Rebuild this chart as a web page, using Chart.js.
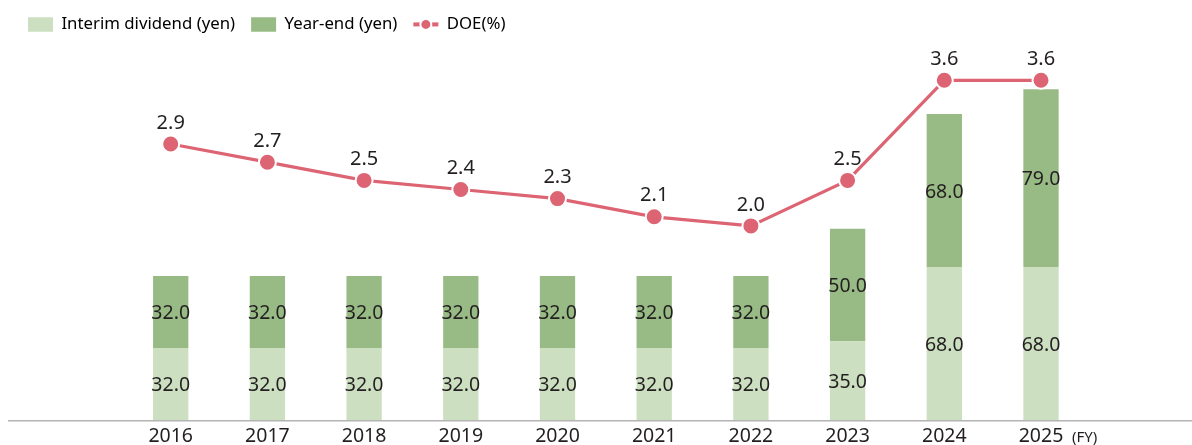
<!DOCTYPE html>
<html>
<head>
<meta charset="utf-8">
<script src="https://cdn.jsdelivr.net/npm/chart.js@4.4.1/dist/chart.umd.min.js"></script>
<style>
html,body{margin:0;padding:0;background:#fff;}
#wrap{width:1192px;height:445px;position:relative;}
</style>
</head>
<body>
<div id="wrap"><canvas id="c" width="1192" height="445"></canvas></div>
<script>
// ---- data ----
const categories = ['2016','2017','2018','2019','2020','2021','2022','2023','2024','2025'];
const interimDividend = [32, 32, 32, 32, 32, 32, 32, 35, 68, 68];
const yearEndDividend = [32, 32, 32, 32, 32, 32, 32, 50, 68, 79];
const doePercent = [2.9, 2.7, 2.5, 2.4, 2.3, 2.1, 2.0, 2.5, 3.6, 3.6];
const seriesNames = ['Interim dividend (yen)', 'Year-end (yen)', 'DOE(%)'];
const axisNote = '(FY)';

// ---- styles ----
const FONT = "'Noto Sans', 'DejaVu Sans', sans-serif";
const C_INTERIM = '#CCDFC1';
const C_YEAREND = '#98BB85';
const C_DOE = '#DD6473';
const C_TEXT = '#231f20';

Chart.defaults.font.family = FONT;

const valueLabels = {
  id: 'valueLabels',
  afterDatasetsDraw(chart) {
    const ctx = chart.ctx;
    ctx.save();
    ctx.fillStyle = C_TEXT;
    ctx.textAlign = 'center';
    ctx.textBaseline = 'middle';
    ctx.font = '19.5px ' + FONT;
    [0, 1].forEach(di => {
      const meta = chart.getDatasetMeta(di);
      const vals = chart.data.datasets[di].data;
      meta.data.forEach((bar, i) => {
        const p = bar.getProps(['x', 'y', 'base'], true);
        ctx.fillText(vals[i].toFixed(1), p.x, (p.y + p.base) / 2 + 1.5);
      });
    });
    ctx.font = '20px ' + FONT;
    const lm = chart.getDatasetMeta(2);
    lm.data.forEach((pt, i) => {
      ctx.fillText(doePercent[i].toFixed(1), pt.x, pt.y - 21);
    });
    ctx.restore();
  }
};

const decorations = {
  id: 'decorations',
  afterDraw(chart) {
    const ctx = chart.ctx;
    const xs = chart.scales.x;
    ctx.save();
    // baseline axis line
    ctx.strokeStyle = '#b4b4b4';
    ctx.lineWidth = 1.5;
    ctx.beginPath();
    ctx.moveTo(8, chart.chartArea.bottom + 0.75);
    ctx.lineTo(chart.width, chart.chartArea.bottom + 0.75);
    ctx.stroke();
    // (FY) note after last tick
    ctx.fillStyle = C_TEXT;
    ctx.font = '15px ' + FONT;
    ctx.textAlign = 'left';
    ctx.textBaseline = 'alphabetic';
    const lastX = xs.getPixelForValue(categories.length - 1);
    ctx.fillText(axisNote, lastX + 31, 441.5);
    // DOE legend marker
    const hb = chart.legend && chart.legend.legendHitBoxes && chart.legend.legendHitBoxes[2];
    if (hb) {
      const cy = hb.top + hb.height / 2;
      const x0 = hb.left, x1 = hb.left + 25;
      ctx.strokeStyle = C_DOE;
      ctx.lineWidth = 4;
      ctx.beginPath();
      ctx.moveTo(x0, cy);
      ctx.lineTo(x1, cy);
      ctx.stroke();
      ctx.beginPath();
      ctx.arc((x0 + x1) / 2, cy, 5.5, 0, Math.PI * 2);
      ctx.fillStyle = C_DOE;
      ctx.fill();
      ctx.strokeStyle = '#fff';
      ctx.lineWidth = 2;
      ctx.stroke();
    }
    ctx.restore();
  }
};

new Chart(document.getElementById('c'), {
  data: {
    labels: categories,
    datasets: [
      {
        type: 'bar',
        label: seriesNames[0],
        data: interimDividend,
        backgroundColor: C_INTERIM,
        yAxisID: 'y',
        stack: 'div',
        order: 1,
        barPercentage: 0.365,
        categoryPercentage: 1
      },
      {
        type: 'bar',
        label: seriesNames[1],
        data: yearEndDividend,
        backgroundColor: C_YEAREND,
        yAxisID: 'y',
        stack: 'div',
        order: 1,
        barPercentage: 0.365,
        categoryPercentage: 1
      },
      {
        type: 'line',
        label: seriesNames[2],
        data: doePercent,
        borderColor: C_DOE,
        borderWidth: 3.2,
        backgroundColor: C_DOE,
        pointBackgroundColor: C_DOE,
        pointBorderColor: '#ffffff',
        pointBorderWidth: 2,
        pointRadius: 8.5,
        tension: 0,
        yAxisID: 'y2',
        order: 0
      }
    ]
  },
  options: {
    responsive: false,
    animation: false,
    events: [],
    layout: { padding: { left: 12, top: 0, right: 0, bottom: 0 } },
    plugins: {
      tooltip: { enabled: false },
      legend: {
        display: true,
        position: 'top',
        align: 'start',
        labels: {
          boxWidth: 25,
          boxHeight: 14.5,
          padding: 16,
          color: '#333333',
          font: { size: 16.8, family: FONT },
          generateLabels(chart) {
            return chart.data.datasets.map((ds, i) => ({
              text: ds.label,
              fillStyle: i < 2 ? ds.backgroundColor : 'rgba(0,0,0,0)',
              strokeStyle: 'rgba(0,0,0,0)',
              lineWidth: 0,
              hidden: false,
              datasetIndex: i
            }));
          }
        }
      }
    },
    scales: {
      x: {
        stacked: true,
        grid: { display: false, drawTicks: false },
        border: { display: false },
        ticks: { color: C_TEXT, font: { size: 19.5, family: FONT }, padding: 5 },
        afterFit(s) { s.height = 25; }
      },
      y: {
        position: 'left',
        stacked: true,
        min: 0,
        max: 167.6,
        grid: { display: false, drawTicks: false },
        border: { display: false },
        ticks: { display: false },
        afterFit(s) { s.width = 110.35; }
      },
      y2: {
        position: 'right',
        min: -0.133,
        max: 4.012,
        grid: { display: false, drawTicks: false },
        border: { display: false },
        ticks: { display: false },
        afterFit(s) { s.width = 102.65; }
      }
    }
  },
  plugins: [valueLabels, decorations]
});
</script>
</body>
</html>
